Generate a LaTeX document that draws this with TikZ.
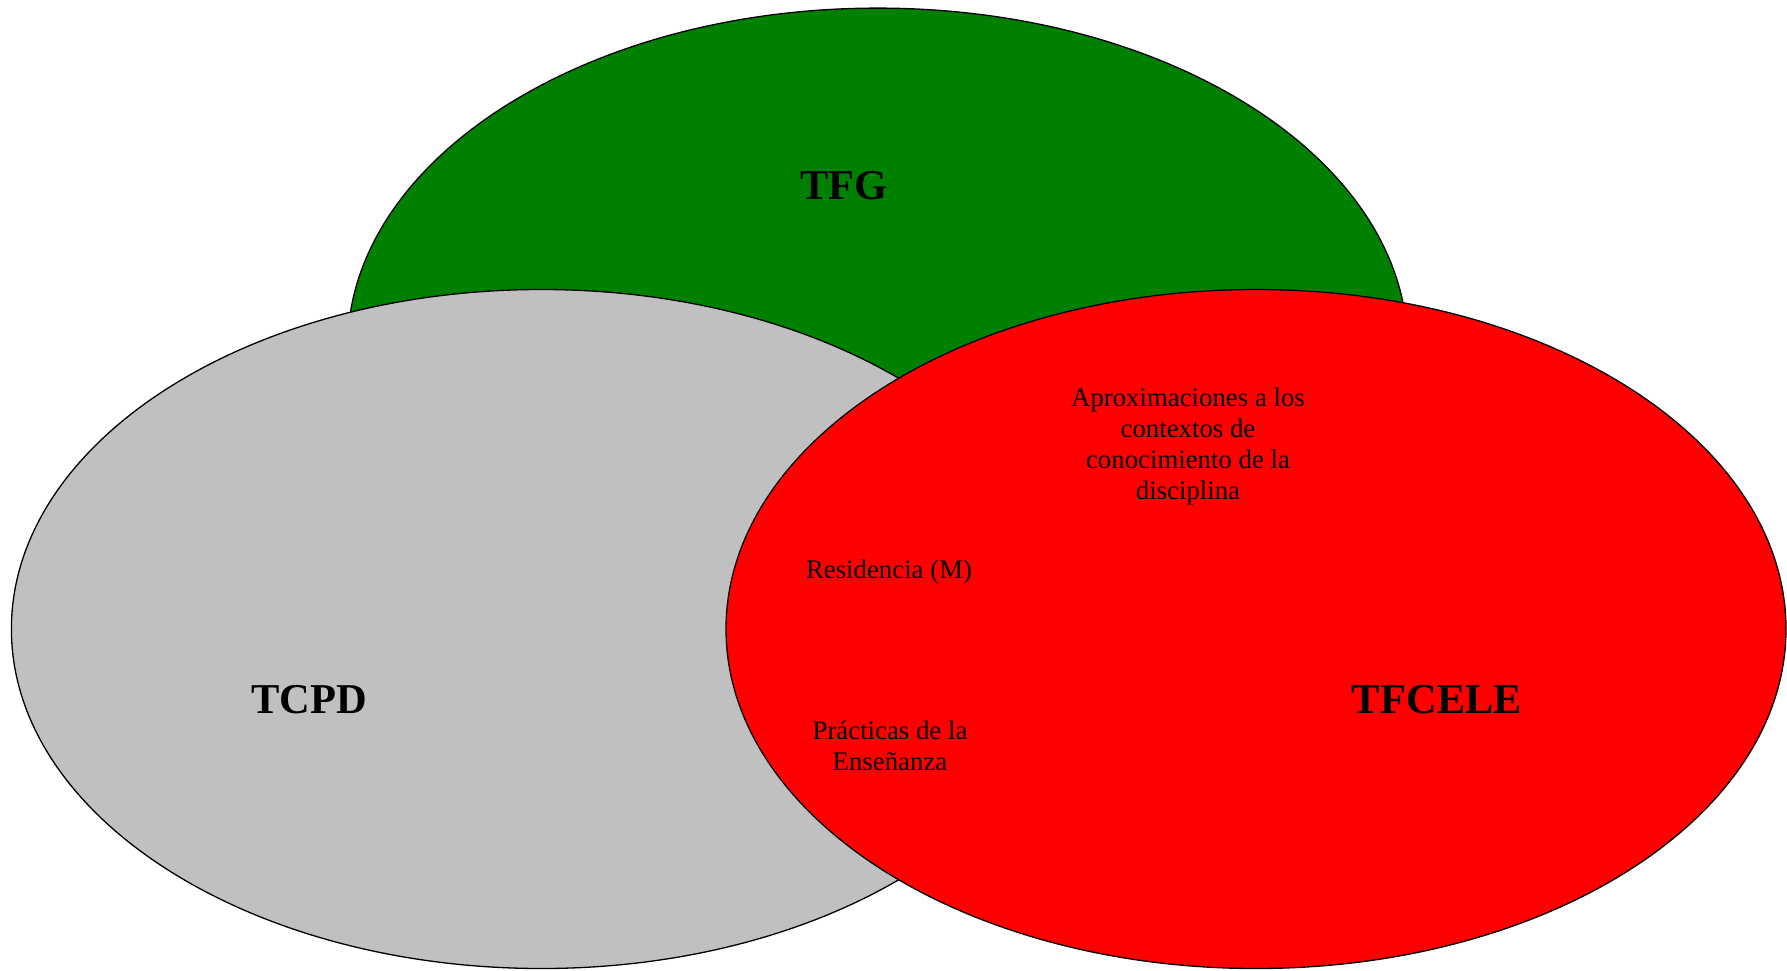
\documentclass[tikz,border=0pt]{standalone}
\usepackage{fontspec}
\setmainfont{Liberation Serif}
\definecolor{tfggreen}{HTML}{008000}
\definecolor{tcpdgrey}{HTML}{C0C0C0}
\definecolor{tfcelered}{HTML}{FF0000}
\tikzset{
  setoval/.style={draw=black, line width=1.3pt},
  titletext/.style={inner sep=0pt, anchor=base, font=\fontsize{42.5}{48}\selectfont\bfseries},
  itemtext/.style={inner sep=0pt, align=center, font=\fontsize{26.8}{31}\selectfont}
}
\begin{document}
\begin{tikzpicture}[x=1pt, y=-1pt]
\useasboundingbox (0,0) rectangle (1787,970);
\fill[tfggreen, setoval] (877.6,347.6) ellipse [x radius=530, y radius=339.5];
\fill[tcpdgrey, setoval] (541.4,629) ellipse [x radius=530, y radius=339.5];
\fill[tfcelered, setoval] (1256,629) ellipse [x radius=530, y radius=339.5];
\node[titletext] (tfg) at (844,199) {TFG};
\node[titletext] (tcpd) at (309,713) {TCPD};
\node[titletext] (tfcele) at (1437,713) {TFCELE};
\node[itemtext] (aprox) at (1188,446.5) {Aproximaciones a los\\contextos de\\conocimiento de la\\disciplina};
\node[itemtext, anchor=base] (resid) at (889,578) {Residencia (M)};
\node[itemtext] (pract) at (890,746) {Prácticas de la\\Enseñanza};
\end{tikzpicture}
\end{document}
